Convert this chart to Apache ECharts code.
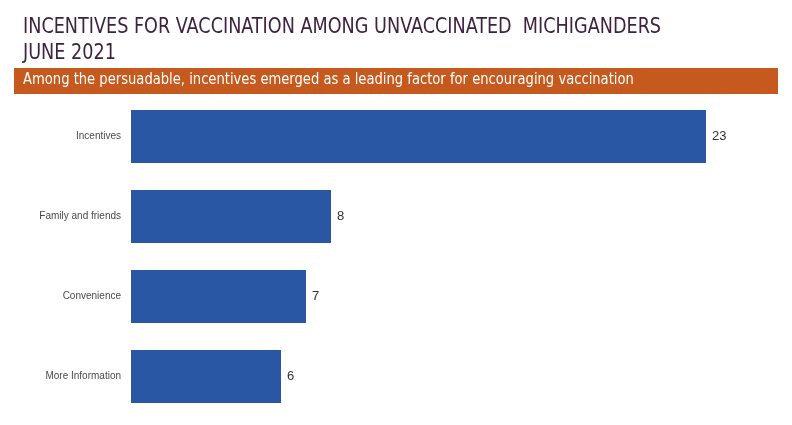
<!DOCTYPE html>
<html><head><meta charset="utf-8">
<script src="https://cdn.jsdelivr.net/npm/echarts@6/dist/echarts.min.js"></script>
<style>html,body{margin:0;padding:0;background:#fff}#c{width:792px;height:425px}</style>
</head><body><div id="c"></div>
<script>
const categories = ["Incentives", "Family and friends", "Convenience", "More Information"];
const values = [23, 8, 7, 6];
const titleLines = ["INCENTIVES FOR VACCINATION AMONG UNVACCINATED  MICHIGANDERS", "JUNE 2021"];
const bannerText = "Among the persuadable, incentives emerged as a leading factor for encouraging vaccination";

const narrow = '"Liberation Sans Narrow", "DejaVu Sans Condensed", sans-serif';
const chart = echarts.init(document.getElementById('c'));
chart.setOption({
  backgroundColor: '#ffffff',
  animation: false,
  graphic: [
    { type: 'text', x: 23, y: 17, scaleX: 0.933, style: { text: titleLines[0], fill: '#3f2140', fontSize: 21, fontFamily: narrow, verticalAlign: 'top' } },
    { type: 'text', x: 23, y: 43, scaleX: 0.933, style: { text: titleLines[1], fill: '#3f2140', fontSize: 21, fontFamily: narrow, verticalAlign: 'top' } },
    { type: 'rect', x: 14, y: 68, shape: { width: 764, height: 26 }, style: { fill: '#c65a1e' } },
    { type: 'text', x: 23, y: 73, scaleX: 0.973, style: { text: bannerText, fill: '#ffffff', fontSize: 15, fontFamily: narrow, verticalAlign: 'top' } }
  ],
  grid: { left: 131, right: 11, top: 96.5, bottom: 8.5 },
  xAxis: { type: 'value', min: 0, max: 26, show: false },
  yAxis: {
    type: 'category', data: categories, inverse: true,
    axisLine: { show: false }, axisTick: { show: false },
    axisLabel: { fontSize: 10, color: '#4a4a4a', margin: 10, fontFamily: 'Liberation Sans, sans-serif' }
  },
  series: [{
    type: 'bar', data: values, barWidth: 53,
    itemStyle: { color: '#2a57a3' },
    label: { show: true, position: 'right', distance: 6, fontSize: 13, color: '#333', fontFamily: 'Liberation Sans, sans-serif' }
  }]
});
</script></body></html>
